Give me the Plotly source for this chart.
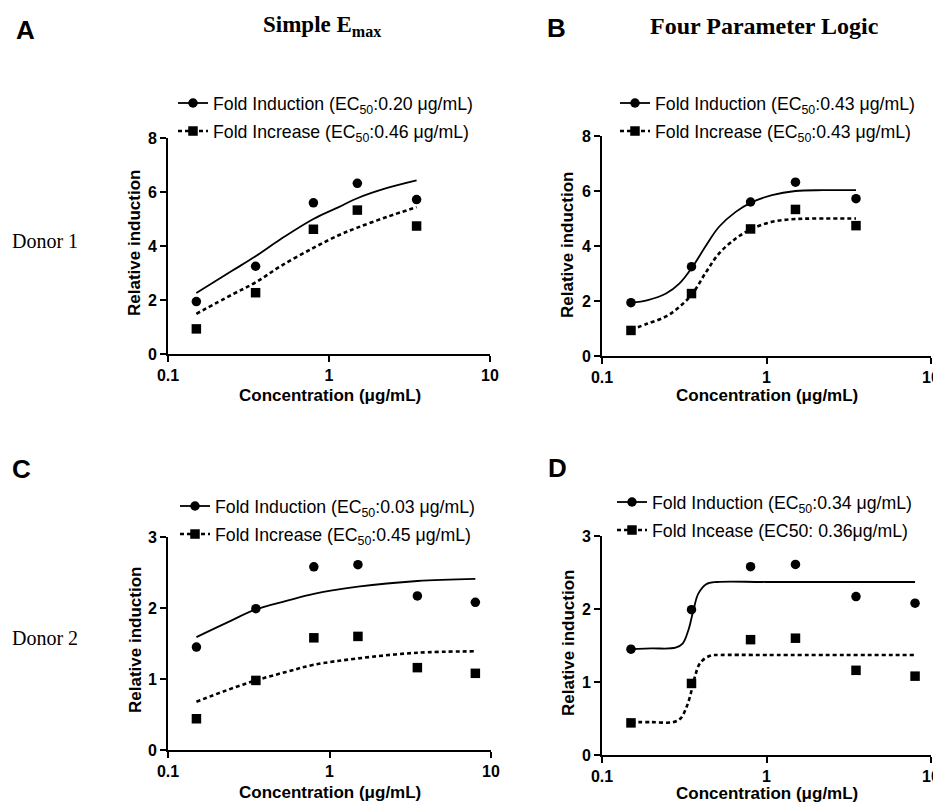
import plotly.graph_objects as go

W, H = 941, 807

# ---------------- data ----------------
conc_d1 = [0.15, 0.35, 0.8, 1.5, 3.5]
induction_d1 = [1.94, 3.25, 5.60, 6.32, 5.72]
increase_d1 = [0.93, 2.27, 4.62, 5.33, 4.74]

conc_d2 = [0.15, 0.35, 0.8, 1.5, 3.5, 8.0]
induction_d2 = [1.45, 1.99, 2.58, 2.61, 2.17, 2.08]
increase_d2 = [0.44, 0.98, 1.58, 1.60, 1.16, 1.08]

# fitted curves
fitA_x = [0.15, 0.25, 0.35, 0.5, 0.8, 1.15, 1.5, 2.3, 3.5]
fitA_ind = [2.26, 3.08, 3.62, 4.25, 5.00, 5.44, 5.77, 6.15, 6.43]
fitA_inc = [1.49, 2.20, 2.65, 3.25, 3.93, 4.40, 4.68, 5.08, 5.44]

fitB_x = [0.15, 0.19, 0.245, 0.295, 0.355, 0.43, 0.515, 0.65, 0.8, 1.08, 1.5, 2.2, 3.5]
fitB_ind = [1.93, 2.03, 2.27, 2.63, 3.24, 4.03, 4.70, 5.24, 5.57, 5.85, 6.00, 6.03, 6.03]
fitB_inc = [0.96, 1.18, 1.44, 1.78, 2.27, 3.06, 3.73, 4.27, 4.60, 4.88, 4.98, 5.00, 5.00]

fitC_x = [0.15, 0.23, 0.35, 0.54, 0.8, 1.5, 3.5, 8.0]
fitC_ind = [1.59, 1.79, 1.98, 2.10, 2.20, 2.30, 2.38, 2.41]
fitC_inc = [0.68, 0.84, 0.98, 1.10, 1.20, 1.29, 1.37, 1.39]

fitD_ind_x = [0.15, 0.2, 0.28, 0.31, 0.335, 0.36, 0.385, 0.43, 0.5, 1.0, 8.0]
fitD_ind = [1.45, 1.46, 1.47, 1.53, 1.71, 1.99, 2.21, 2.34, 2.37, 2.37, 2.37]
fitD_inc_x = [0.15, 0.2, 0.27, 0.3, 0.327, 0.351, 0.367, 0.395, 0.454, 0.52, 1.0, 8.0]
fitD_inc = [0.45, 0.45, 0.45, 0.50, 0.66, 0.89, 1.07, 1.26, 1.36, 1.37, 1.37, 1.37]

legend_names = {
    "A": ["Fold Induction (EC<sub>50</sub>:0.20 μg/mL)", "Fold Increase (EC<sub>50</sub>:0.46 μg/mL)"],
    "B": ["Fold Induction (EC<sub>50</sub>:0.43 μg/mL)", "Fold Increase (EC<sub>50</sub>:0.43 μg/mL)"],
    "C": ["Fold Induction (EC<sub>50</sub>:0.03 μg/mL)", "Fold Increase (EC<sub>50</sub>:0.45 μg/mL)"],
    "D": ["Fold Induction (EC<sub>50</sub>:0.34 μg/mL)", "Fold Incease (EC50: 0.36μg/mL)"],
}

x_ticks = [0.1, 1, 10]
x_ticktext = ["0.1", "1", "10"]

# ---------------- layout helpers ----------------
SANS = "Liberation Sans, Arial, sans-serif"
SERIF = "Liberation Serif, Times New Roman, serif"

OFF = 8  # the page body adds an 8px offset; compensate so the picture lines up

def px_x(p):
    return (p - OFF) / W

def px_y(p):
    return 1 - (p - OFF) / H

# plot boxes in screen pixels: (left, right, top, bottom)
boxes = {
    "A": (168, 490, 138, 354),
    "B": (602, 931, 136, 356),
    "C": (168, 491, 537, 750),
    "D": (602, 931, 536, 755),
}
yranges = {"A": ([0, 8], 2), "B": ([0, 8], 2), "C": ([0, 3], 1), "D": ([0, 3], 1)}
legend_pos = {"A": (173, 85), "B": (615, 85), "C": (175, 488), "D": (612, 484)}

fig = go.Figure()

panels = [
    ("A", conc_d1, induction_d1, increase_d1, fitA_x, fitA_ind, fitA_x, fitA_inc),
    ("B", conc_d1, induction_d1, increase_d1, fitB_x, fitB_ind, fitB_x, fitB_inc),
    ("C", conc_d2, induction_d2, increase_d2, fitC_x, fitC_ind, fitC_x, fitC_inc),
    ("D", conc_d2, induction_d2, increase_d2, fitD_ind_x, fitD_ind, fitD_inc_x, fitD_inc),
]

solid = dict(color="black", width=1.8)
dotted = dict(color="black", width=2.6, dash="4px,3px")
circ = dict(symbol="circle", size=9.5, color="black")
sq = dict(symbol="square", size=9.5, color="black")

layout_axes = {}
for i, (key, cx, yind, yinc, fxi, fyi, fxc, fyc) in enumerate(panels):
    n = i + 1
    xa = "x" if n == 1 else f"x{n}"
    ya = "y" if n == 1 else f"y{n}"
    lg = "legend" if n == 1 else f"legend{n}"
    common = dict(xaxis=xa, yaxis=ya, legend=lg, hoverinfo="skip")
    fig.add_trace(go.Scatter(x=fxi, y=fyi, mode="lines", line=solid, line_shape="spline",
                             showlegend=False, **common))
    fig.add_trace(go.Scatter(x=fxc, y=fyc, mode="lines", line=dotted, line_shape="spline",
                             showlegend=False, **common))
    fig.add_trace(go.Scatter(x=cx, y=yind, mode="markers", marker=circ, showlegend=False, **common))
    fig.add_trace(go.Scatter(x=cx, y=yinc, mode="markers", marker=sq, showlegend=False, **common))
    # legend entries (line + marker)
    fig.add_trace(go.Scatter(x=[None], y=[None], mode="lines+markers", line=solid, marker=circ,
                             name=legend_names[key][0], legendgroup=key + "1", **common))
    fig.add_trace(go.Scatter(x=[None], y=[None], mode="lines+markers", line=dotted, marker=sq,
                             name=legend_names[key][1], legendgroup=key + "2", **common))

    l, r, t, b = boxes[key]
    yr, dt = yranges[key]
    axis_common = dict(showline=True, linewidth=2, linecolor="black", ticks="outside",
                       ticklen=6, tickwidth=2, tickcolor="black", showgrid=False, zeroline=False,
                       automargin=False,
                       tickfont=dict(family=SANS, size=16, color="black", weight="bold"),
                       fixedrange=True)
    xname = "xaxis" if n == 1 else f"xaxis{n}"
    yname = "yaxis" if n == 1 else f"yaxis{n}"
    layout_axes[xname] = dict(type="log", range=[-1, 1], tickvals=x_ticks, ticktext=x_ticktext,
                              domain=[px_x(l), px_x(r)], anchor=ya, **axis_common)
    layout_axes[yname] = dict(range=yr, dtick=dt, tick0=0, domain=[px_y(b), px_y(t)],
                              anchor=xa, **axis_common)
    lx, ly = legend_pos[key]
    layout_axes[lg] = dict(x=px_x(lx), y=px_y(ly), xanchor="left", yanchor="top",
                           bgcolor="rgba(0,0,0,0)", tracegroupgap=2, itemwidth=30,
                           font=dict(family=SANS, size=17.7, color="black"))

fig.update_layout(**layout_axes)

annotations = []

def ann(text, x, y, size, family, bold=False, xanchor="center", yanchor="middle", angle=0):
    annotations.append(dict(text=text, x=px_x(x), y=px_y(y), xref="paper", yref="paper",
                            showarrow=False, xanchor=xanchor, yanchor=yanchor, textangle=angle,
                            font=dict(family=family, size=size, color="black",
                                      weight="bold" if bold else "normal")))

# panel letters
ann("A", 25, 30, 26, SANS, True)
ann("B", 556, 28, 26, SANS, True)
ann("C", 21, 469, 26, SANS, True)
ann("D", 557, 468, 26, SANS, True)
# column titles
ann("Simple E<sub>max</sub>", 322, 26, 23, SERIF, True)
ann("Four Parameter Logic", 764, 26, 24, SERIF, True)
# row labels
ann("Donor 1", 10, 241, 20, SERIF, False, xanchor="left")
ann("Donor 2", 10, 638, 20, SERIF, False, xanchor="left")
# axis titles
for cxp, cyp in [(330, 395), (767, 395), (330, 792), (767, 793)]:
    ann("Concentration (μg/mL)", cxp, cyp, 17, SANS, True)
for cxp, cyp in [(135, 243), (568, 245), (135, 640), (568, 643)]:
    ann("Relative induction", cxp, cyp, 17, SANS, True, angle=-90)

fig.update_layout(
    width=W, height=H,
    margin=dict(l=0, r=0, t=0, b=0, autoexpand=False),
    paper_bgcolor="white", plot_bgcolor="white",
    annotations=annotations,
    showlegend=True,
)

fig.write_html("out.html")
